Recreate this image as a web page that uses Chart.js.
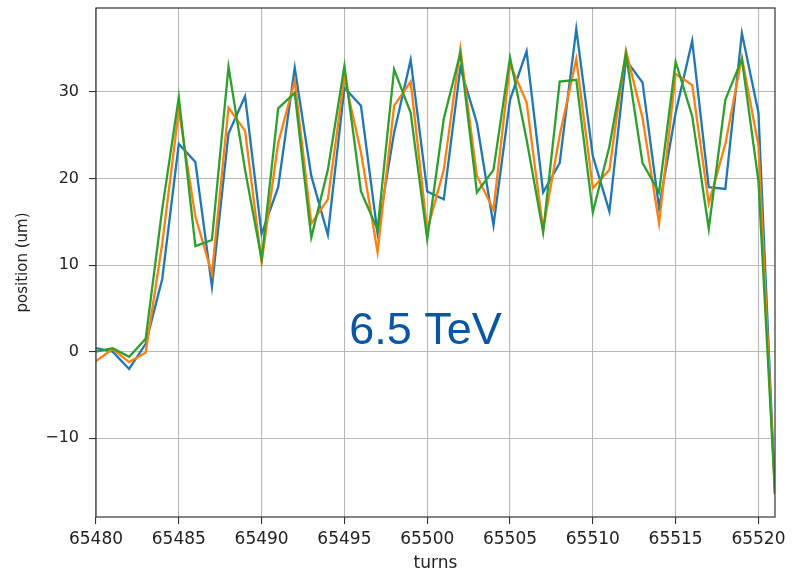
<!DOCTYPE html>
<html>
<head>
<meta charset="utf-8">
<script src="https://cdn.jsdelivr.net/npm/chart.js@4"></script>
<style>
  body { margin: 0; background: #fff; }
</style>
</head>
<body>
<canvas id="myCanvas" width="797" height="571"></canvas>
<script>
var turns = [65480, 65481, 65482, 65483, 65484, 65485, 65486, 65487, 65488, 65489,
             65490, 65491, 65492, 65493, 65494, 65495, 65496, 65497, 65498, 65499,
             65500, 65501, 65502, 65503, 65504, 65505, 65506, 65507, 65508, 65509,
             65510, 65511, 65512, 65513, 65514, 65515, 65516, 65517, 65518, 65519,
             65520, 65521]

var blue = [0.4, 0.0, -2.0, 0.9, 8.4, 24.0, 21.9, 7.5, 25.2, 29.5,
            13.6, 19.0, 32.8, 20.3, 13.5, 30.5, 28.4, 13.7, 25.3, 33.7,
            18.5, 17.6, 32.8, 26.4, 14.6, 29.1, 34.7, 18.4, 21.8, 37.3,
            22.6, 16.2, 33.7, 31.1, 16.6, 27.6, 35.9, 19.0, 18.8, 36.8,
            27.6, -16.4]

var orange = [-1.1, 0.3, -1.2, -0.1, 12.5, 27.9, 15.6, 9.0, 28.2, 25.5,
              10.3, 24.1, 31.3, 14.8, 17.6, 31.7, 23.0, 11.5, 28.4, 31.2,
              14.0, 21.0, 35.0, 20.3, 16.4, 33.2, 28.8, 14.1, 25.0, 33.8,
              18.9, 21.0, 34.8, 27.0, 14.8, 32.1, 30.8, 17.1, 24.0, 34.0,
              23.8, -16.4]

var green = [0.0, 0.4, -0.6, 1.5, 16.5, 29.4, 12.2, 12.9, 32.9, 21.0,
             10.7, 28.1, 29.9, 13.2, 21.0, 33.0, 18.5, 14.1, 32.6, 27.6,
             13.0, 26.9, 34.5, 18.4, 21.0, 34.0, 24.5, 13.8, 31.2, 31.4,
             16.1, 23.7, 34.4, 21.8, 18.4, 33.5, 27.2, 14.2, 29.1, 33.8,
             19.7, -16.4]

var xTicks = [65480, 65485, 65490, 65495, 65500, 65505, 65510, 65515, 65520]
var yTicks = [-10, 0, 10, 20, 30]

function pts(ys) {
    return turns.map(function (t, i) { return { x: t, y: ys[i] } })
}

function line(label, ys, color, order) {
    return {
        label: label,
        data: pts(ys),
        borderColor: color,
        backgroundColor: color,
        borderWidth: 2.3,
        pointRadius: 0,
        tension: 0,
        order: order
    }
}

// frame on all four sides + "6.5 TeV" label
var extras = {
    id: 'extras',
    afterDatasetsDraw: function (chart) {
        var a = chart.chartArea
        var c = chart.ctx
        c.save()
        c.strokeStyle = '#333'
        c.lineWidth = 1.2
        c.strokeRect(a.left, a.top, a.right - a.left, a.bottom - a.top)
        c.fillStyle = '#0a56a2'
        c.font = "45px 'Liberation Sans'"
        c.textAlign = 'center'
        c.textBaseline = 'alphabetic'
        c.fillText('6.5 TeV', chart.scales.x.getPixelForValue(65499.9), chart.scales.y.getPixelForValue(0.9))
        c.restore()
    }
}

var ctx = document.getElementById("myCanvas")
var myChart = new Chart(ctx, {
    type: 'line',
    data: {
        datasets: [
            line('blue', blue, '#1f77b4', 2),
            line('orange', orange, '#ff7f0e', 1),
            line('green', green, '#2ca02c', 0)
        ]
    },
    options: {
        responsive: false,
        animation: false,
        layout: { padding: { left: 0, top: 8, right: 22, bottom: 0 } },
        plugins: {
            legend: { display: false },
            tooltip: { enabled: false }
        },
        scales: {
            x: {
                type: 'linear',
                min: 65480,
                max: 65521,
                afterBuildTicks: function (axis) {
                    axis.ticks = xTicks.map(function (v) { return { value: v } })
                },
                afterFit: function (axis) {
                    axis.height = 54
                    axis.paddingLeft = 0
                    axis.paddingRight = 0
                },
                ticks: {
                    color: '#222',
                    font: { family: "'DejaVu Sans'", size: 17 },
                    padding: 5,
                    maxRotation: 0,
                    callback: function (v) { return String(v) }
                },
                grid: { color: '#b8b8b8', lineWidth: 1.1, tickLength: 7, tickColor: '#333' },
                border: { display: false },
                title: {
                    display: true, text: 'turns', color: '#222',
                    font: { family: "'DejaVu Sans'", size: 17 },
                    padding: { top: 0, bottom: -3 }
                }
            },
            y: {
                min: -19.1,
                max: 39.7,
                afterBuildTicks: function (axis) {
                    axis.ticks = yTicks.map(function (v) { return { value: v } })
                },
                afterFit: function (axis) {
                    axis.width = 96
                    axis.paddingTop = 0
                    axis.paddingBottom = 0
                },
                ticks: {
                    color: '#222',
                    font: { family: "'DejaVu Sans'", size: 16 },
                    padding: 10,
                    callback: function (v) { return v < 0 ? '\u2212' + Math.abs(v) : String(v) }
                },
                grid: { color: '#b8b8b8', lineWidth: 1.1, tickLength: 7, tickColor: '#333' },
                border: { display: false },
                title: {
                    display: true, text: 'position (um)', color: '#222',
                    font: { family: "'DejaVu Sans'", size: 15 },
                    padding: { top: 14, bottom: 0 }
                }
            }
        }
    },
    plugins: [extras]
})
</script>
</body>
</html>
